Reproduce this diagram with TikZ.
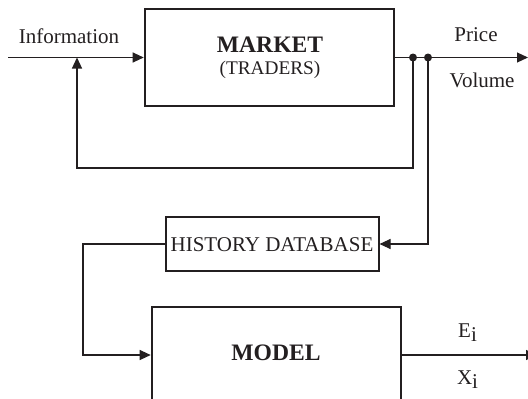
\documentclass[tikz,border=0pt]{standalone}
\usepackage{fontspec}
\setmainfont{Liberation Serif}
\usetikzlibrary{arrows.meta}
\definecolor{ink}{RGB}{35,31,32}
\begin{document}
\begin{tikzpicture}[x=1pt,y=-1pt,
  line/.style={draw=ink,line width=1.1pt},
  arr/.style={line,-{Triangle[length=11pt,width=10pt]}},
  bigbox/.style={draw=ink,line width=2.6pt,inner sep=0pt},
  smallbox/.style={draw=ink,line width=1.1pt,inner sep=0pt},
  reg/.style={text=ink,font=\fontsize{21}{25}\selectfont,anchor=base,inner sep=0pt},
  bold/.style={text=ink,font=\bfseries\fontsize{23.6}{28}\selectfont,anchor=base,inner sep=0pt},
  small/.style={text=ink,font=\fontsize{19.3}{23}\selectfont,anchor=base,inner sep=0pt},
  dot/.style={circle,fill=ink,inner sep=0pt,minimum size=8pt}]
\useasboundingbox (0,0) rectangle (528,399);
\clip (0,0) rectangle (528,399);

% boxes
\node[bigbox,minimum width=249pt,minimum height=97pt] (market) at (269.5,57.5) {};
\node[smallbox,minimum width=213pt,minimum height=54pt] (hist) at (272.5,244) {};
\node[bigbox,minimum width=249pt,minimum height=96pt] (model) at (276.5,355) {};

% texts
\node[bold] (tmarket) at (270,52) {MARKET};
\node[small] (ttraders) at (270,74) {(TRADERS)};
\node[reg] (thist) at (272,251) {HISTORY DATABASE};
\node[bold] (tmodel) at (276,360) {MODEL};
\node[reg] (tinfo) at (69,43) {Information};
\node[reg] (tprice) at (476,41) {Price};
\node[reg] (tvolume) at (482,87) {Volume};
\node[reg] (tE) at (467.5,337) {E\raisebox{-4pt}{i}};
\node[reg] (tX) at (467.5,384) {X\raisebox{-4pt}{i}};

% coordinates
\coordinate (infoStart) at (8,57.5);
\coordinate (fbIn) at (77,57.5);
\coordinate (fbCorner) at (77,168);
\coordinate (outEnd) at (528,57.5);
\coordinate (modelOut) at (537,355);
\coordinate (histCorner) at (83,244);

% connectors
\draw[arr] (infoStart) -- (market.west);
\draw[arr] (market.east) -- (outEnd);
\node[dot] (d1) at (413,57.5) {};
\node[dot] (d2) at (428,57.5) {};
\draw[arr] (d1.center) |- (fbCorner) -- (fbIn);
\draw[arr] (d2.center) |- (hist.east);
\draw[arr] (hist.west) -- (histCorner) |- (model.west);
\draw[arr] (model.east) -- (modelOut);
\end{tikzpicture}
\end{document}
